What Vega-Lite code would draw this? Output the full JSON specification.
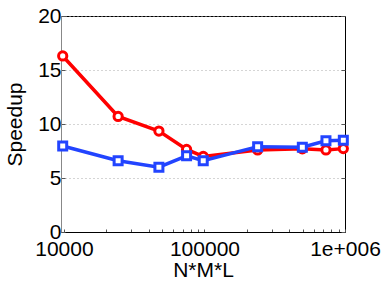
{
  "$schema": "https://vega.github.io/schema/vega-lite/v6.json",
  "width": 284,
  "height": 216,
  "autosize": {"type": "none"},
  "padding": {"left": 61, "top": 16, "right": 43, "bottom": 52},
  "background": "white",
  "config": {
    "view": {"stroke": "black", "strokeWidth": 1},
    "font": "Liberation Sans",
    "axis": {
      "labelFont": "Liberation Sans",
      "titleFont": "Liberation Sans",
      "labelFontSize": 21,
      "titleFontSize": 21,
      "titleFontWeight": "normal",
      "labelColor": "black",
      "titleColor": "black",
      "tickColor": "#555",
      "domainColor": "black"
    }
  },
  "data": {
    "values": [
      {"nml": 9800, "speedup": 16.3, "series": "A"},
      {"nml": 24300, "speedup": 10.7, "series": "A"},
      {"nml": 47400, "speedup": 9.35, "series": "A"},
      {"nml": 74600, "speedup": 7.65, "series": "A"},
      {"nml": 98000, "speedup": 7.0, "series": "A"},
      {"nml": 239000, "speedup": 7.6, "series": "A"},
      {"nml": 497000, "speedup": 7.7, "series": "A"},
      {"nml": 732000, "speedup": 7.6, "series": "A"},
      {"nml": 973000, "speedup": 7.72, "series": "A"},
      {"nml": 9800, "speedup": 7.96, "series": "B"},
      {"nml": 24300, "speedup": 6.6, "series": "B"},
      {"nml": 47400, "speedup": 6.0, "series": "B"},
      {"nml": 74600, "speedup": 7.05, "series": "B"},
      {"nml": 98000, "speedup": 6.6, "series": "B"},
      {"nml": 239000, "speedup": 7.9, "series": "B"},
      {"nml": 497000, "speedup": 7.85, "series": "B"},
      {"nml": 732000, "speedup": 8.45, "series": "B"},
      {"nml": 973000, "speedup": 8.5, "series": "B"}
    ]
  },
  "encoding": {
    "x": {
      "field": "nml",
      "type": "quantitative",
      "scale": {"type": "log", "domain": [9530, 1000000], "nice": false},
      "axis": {
        "title": "N*M*L",
        "values": [10000, 20000, 30000, 40000, 50000, 60000, 70000, 80000, 90000, 100000, 200000, 300000, 400000, 500000, 600000, 700000, 800000, 900000, 1000000],
        "labelExpr": "datum.value == 10000 ? '10000' : datum.value == 100000 ? '100000' : datum.value == 1000000 ? '1e+006' : ''",
        "labelFlush": false,
        "labelOverlap": false,
        "labelBound": false,
        "tickSize": -3,
        "labelPadding": 9,
        "grid": false,
        "titleX": 142,
        "titleY": 44,
        "titleBaseline": "alphabetic",
        "titleAnchor": "middle",
        "titleAlign": "center"
      }
    },
    "y": {
      "field": "speedup",
      "type": "quantitative",
      "scale": {"domain": [0, 20], "nice": false, "zero": true}
    }
  },
  "layer": [
    {
      "transform": [{"filter": "datum.series == 'A'"}],
      "mark": {
        "type": "line",
        "color": "#ff0000",
        "strokeWidth": 3.5,
        "point": {"shape": "circle", "filled": false, "fill": "white", "stroke": "#ff0000", "strokeWidth": 3, "size": 68, "opacity": 1}
      },
      "encoding": {
        "y": {
          "field": "speedup",
          "type": "quantitative",
          "axis": {
            "title": "Speedup",
            "values": [0, 5, 10, 15, 20],
            "grid": true,
            "gridColor": "#aaaaaa",
            "gridDash": [1, 3],
            "gridWidth": 1,
            "tickSize": -4,
            "labelPadding": 4,
            "domainColor": "#888888",
            "titleX": -40,
            "titleY": 108,
            "titleAngle": -90,
            "titleBaseline": "alphabetic",
            "titleAlign": "center",
            "titleAnchor": "middle"
          }
        }
      }
    },
    {
      "transform": [{"filter": "datum.series == 'B'"}],
      "mark": {
        "type": "line",
        "color": "#2244ff",
        "strokeWidth": 3.5,
        "point": {"shape": "square", "filled": false, "fill": "white", "stroke": "#2244ff", "strokeWidth": 3, "size": 64, "opacity": 1}
      },
      "encoding": {
        "y": {
          "field": "speedup",
          "type": "quantitative",
          "axis": {
            "orient": "right",
            "title": null,
            "values": [0, 5, 10, 15, 20],
            "labels": false,
            "grid": false,
            "tickSize": -4,
            "domain": false
          }
        }
      }
    }
  ],
  "resolve": {"axis": {"y": "independent"}}
}
